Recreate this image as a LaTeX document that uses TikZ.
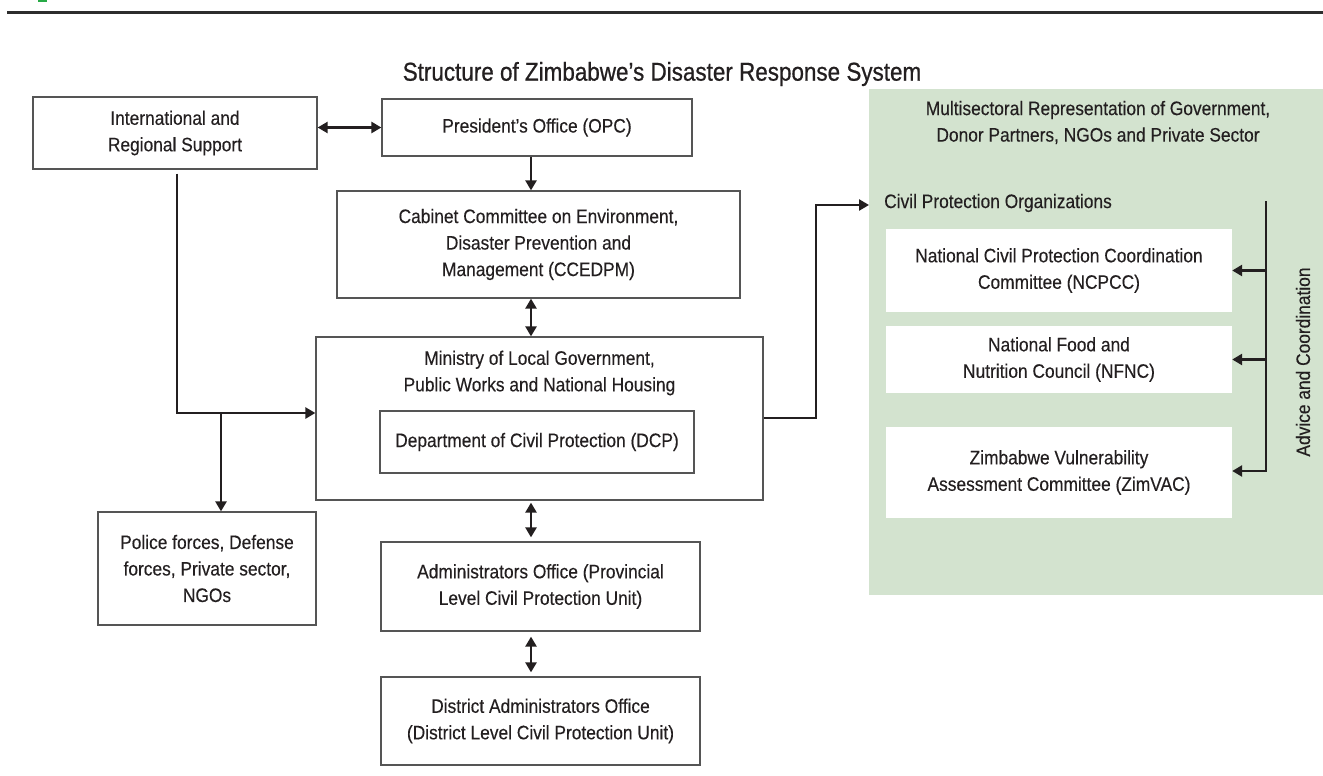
\documentclass[tikz,border=0pt]{standalone}
\usepackage{fontspec}
\setmainfont{Liberation Sans}[FakeStretch=0.89, FakeBold=0.25]
\newfontfamily\ttlfont{Liberation Sans}[FakeStretch=0.87, FakeBold=0.7]
\usetikzlibrary{arrows.meta}
\definecolor{lineblk}{RGB}{35,31,32}
\definecolor{boxgray}{RGB}{85,85,85}
\definecolor{greenbg}{RGB}{211,227,207}
\definecolor{logogreen}{RGB}{40,170,70}
\definecolor{rulegray}{RGB}{45,45,45}
\begin{document}
\begin{tikzpicture}[x=1pt,y=-1pt,
  txt/.style={font=\fontsize{19.5}{26.5}\selectfont, text=lineblk, align=center, inner sep=0pt},
  box/.style={txt, draw=boxgray, line width=1.3pt, fill=white},
  wbox/.style={txt, fill=white},
  conn/.style={draw=lineblk, line width=2.5pt},
  arr/.style={conn, -{Triangle[length=10pt,width=11pt]}},
  dbl/.style={conn, {Triangle[length=10pt,width=11pt]}-{Triangle[length=10pt,width=11pt]}}
]
\useasboundingbox (0,0) rectangle (1323,776);
\fill[white] (0,0) rectangle (1323,776);
% top rule and clipped logo fragment
\fill[logogreen] (38,0) rectangle (47,2);
\draw[rulegray, line width=3pt] (7,12.5) -- (1323,12.5);

% title
\node[txt, font=\ttlfont\fontsize{25.8}{28}\selectfont] (title) at (662,74) {Structure of Zimbabwe’s Disaster Response System};

% green panel
\fill[greenbg] (869,89) rectangle (1323,595);
\node[txt] (gtitle) at (1098,122.5) {Multisectoral Representation of Government,\\Donor Partners, NGOs and Private Sector};
\node[txt, anchor=west] (cpo) at (884,203) {Civil Protection Organizations};
\node[wbox, minimum width=346pt, minimum height=83pt] (w1) at (1059,270.5) {National Civil Protection Coordination\\Committee (NCPCC)};
\node[wbox, minimum width=346pt, minimum height=67pt] (w2) at (1059,359.5) {National Food and\\Nutrition Council (NFNC)};
\node[wbox, minimum width=346pt, minimum height=91pt] (w3) at (1059,472.5) {Zimbabwe Vulnerability\\Assessment Committee (ZimVAC)};
\node[txt, rotate=90] (adv) at (1303,362) {Advice and Coordination};

% left boxes
\node[box, minimum width=284pt, minimum height=72pt] (intl) at (175,133) {International and\\Regional Support};
\node[box, minimum width=310pt, minimum height=57pt] (opc) at (537,127.5) {President’s Office (OPC)};
\node[box, minimum width=403pt, minimum height=107pt] (cced) at (538.5,244.5) {Cabinet Committee on Environment,\\Disaster Prevention and\\Management (CCEDPM)};
\node[box, minimum width=447pt, minimum height=163pt] (min) at (539.5,418.5) {};
\node[txt] (mintext) at (539.5,373) {Ministry of Local Government,\\Public Works and National Housing};
\node[box, minimum width=314pt, minimum height=62pt] (dcp) at (537,442) {Department of Civil Protection (DCP)};
\node[box, minimum width=218pt, minimum height=113pt] (police) at (207,568.5) {Police forces, Defense\\forces, Private sector,\\NGOs};
\node[box, minimum width=319pt, minimum height=89pt] (admin) at (540.5,586.5) {Administrators Office (Provincial\\Level Civil Protection Unit)};
\node[box, minimum width=319pt, minimum height=88pt] (dist) at (540.5,721) {District Administrators Office\\(District Level Civil Protection Unit)};

% connectors
\coordinate (ax) at (531,0);
\draw[dbl] (intl.east |- opc.west) -- (opc.west);
\draw[arr] (opc.south -| ax) -- (cced.north -| ax);
\draw[dbl] (cced.south -| ax) -- (min.north -| ax);
\draw[dbl, shorten <=2pt, shorten >=4pt] (min.south -| ax) -- (admin.north -| ax);
\draw[dbl, shorten <=5pt, shorten >=4pt] (admin.south -| ax) -- (dist.north -| ax);

\coordinate (j1) at (177,413);
\coordinate (j2) at (221,413);
\draw[arr, shorten <=4pt] (intl.south -| j1) -- (j1) -- (min.west |- j1);
\draw[arr] (j2) -- (police.north -| j2);

\coordinate (j3) at (816,418);
\coordinate (j4) at (816,205);
\coordinate (cpin) at (869,205);
\draw[arr] (min.east |- j3) -- (j3) -- (j4) -- (cpin);

\coordinate (bt) at (1266,201);
\coordinate (bb) at (1266,471);
\draw[arr] (bt) -- (bb) -- (w3.east |- bb);
\draw[arr] (bt |- w1.east) -- (w1.east);
\draw[arr] (bt |- w2.east) -- (w2.east);
\end{tikzpicture}
\end{document}
